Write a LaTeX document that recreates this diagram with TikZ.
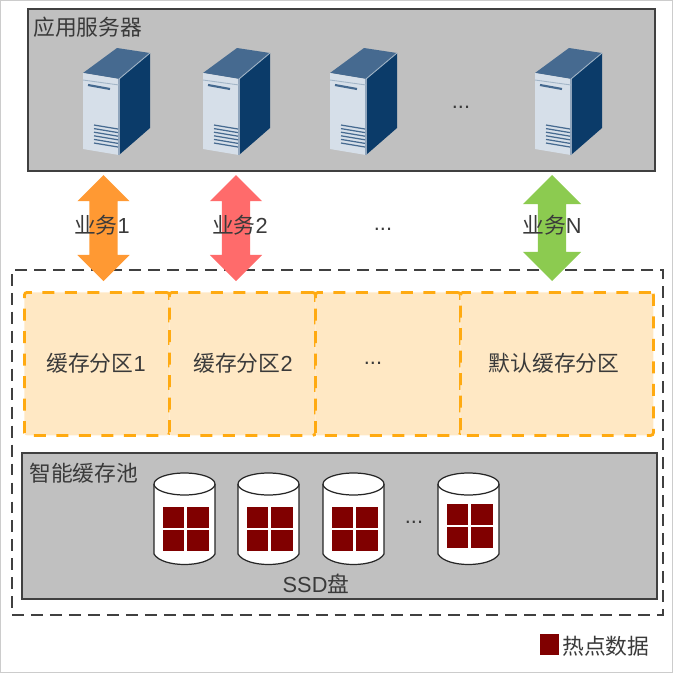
\documentclass[tikz,border=0pt]{standalone}
\usepackage{fontspec}
\setmainfont{Liberation Sans}
\newfontfamily\cjk{Noto Sans CJK SC}
\usetikzlibrary{shapes.arrows}

\definecolor{boxgray}{HTML}{C0C0C0}
\definecolor{cachefill}{HTML}{FFE8C4}
\definecolor{cacheline}{HTML}{FFAA11}
\definecolor{hotred}{HTML}{800000}
\definecolor{txtgray}{HTML}{3A3A3A}
\definecolor{srvtop}{HTML}{466A90}
\definecolor{srvside}{HTML}{0B3B69}
\definecolor{srvfront}{HTML}{D6DFE9}
\definecolor{svcorange}{HTML}{FF9933}
\definecolor{svcred}{HTML}{FF6B6B}
\definecolor{svcgreen}{HTML}{8CCB50}

\tikzset{
    label/.style={font=\fontsize{12.4}{14}\selectfont, text=txtgray, inner sep=0pt},
    panel/.style={draw=black!75, line width=1pt, fill=boxgray, inner sep=0pt, anchor=north west},
    cachebox/.style={draw=cacheline, fill=cachefill, line width=1.6pt, dash pattern=on 6.8pt off 6pt, rounded corners=1.5pt, inner sep=0pt, anchor=north west, minimum height=143*0.02cm},
    biarrow/.style={shape=double arrow, shape border rotate=90, draw=none, minimum height=106*0.02cm, minimum width=51*0.02cm, double arrow head extend=12*0.02cm, double arrow head indent=0pt, inner sep=7.8pt},
    server/.pic={
        \fill[srvtop] (0,25) -- (34,0) -- (67,5) -- (36,31) -- cycle;
        \fill[srvfront] (0,25) -- (36,31) -- (36,107) -- (0,101) -- cycle;
        \fill[srvside] (36,31) -- (67,5) -- (67,80) -- (36,107) -- cycle;
        \draw[srvtop!60!white, line width=0.6pt] (36,31) -- (36,107);
        \draw[srvtop!50!white, line width=0.5pt] (36,31) -- (67,5);
        \draw[srvtop!50!white, line width=0.5pt] (0,32) -- (36,37);
        \draw[srvtop, line width=1.2pt] (5,37) -- (27,41);
        \foreach \i in {0,...,5}
            \draw[srvtop, line width=0.7pt] (11,77+\i*3.6) -- (35,81+\i*3.6);
    },
    disk/.pic={
        \draw[black!85, fill=white, line width=0.7pt] (0,11) -- (0,81) .. controls (8,95) and (53,95) .. (61,81) -- (61,11);
        \draw[black!85, fill=white, line width=0.7pt] (30.5,11) ellipse (0.61cm and 0.22cm);
        \fill[hotred] (9,34+\dy) rectangle (30,55+\dy);
        \fill[hotred] (33,34+\dy) rectangle (54.5,55+\dy);
        \fill[hotred] (9,57+\dy) rectangle (30,78+\dy);
        \fill[hotred] (33,57+\dy) rectangle (54.5,78+\dy);
    }
}

\begin{document}
\begin{tikzpicture}[x=0.02cm, y=-0.02cm]
    \useasboundingbox (0,0) rectangle (673,673);
    \draw[black!20, line width=0.8pt] (0,0) rectangle (673,673);

    % Server panel
    \node[panel, minimum width=627*0.02cm, minimum height=162*0.02cm] (appbox) at (27,8) {};
    \node[label, anchor=west] (applabel) at (33,27) {\cjk 应用服务器};
    \foreach \x/\n in {83/1, 203/2, 330/3, 535/4}
        \pic (srv\n) at (\x,48) {server};
    \node[label] (srvdots) at (461,107) {...};

    % Outer dashed frame
    \node[draw=black!75, line width=1.1pt, dash pattern=on 6.8pt off 4pt, inner sep=0pt, anchor=north west, minimum width=651*0.02cm, minimum height=345*0.02cm] (outer) at (11,269) {};

    % Cache partitions
    \node[cachebox, minimum width=145*0.02cm] (cache1) at (23,291) {};
    \node[cachebox, minimum width=146*0.02cm] (cache2) at (168,291) {};
    \node[cachebox, minimum width=145*0.02cm] (cache3) at (314,291) {};
    \node[cachebox, minimum width=193*0.02cm] (cache4) at (459,291) {};
    \node[label] (cachetext1) at (96,363) {{\cjk 缓存分区}1};
    \node[label] (cachetext2) at (243,363) {{\cjk 缓存分区}2};
    \node[label] (cachetext3) at (373,363) {...};
    \node[label] (cachetext4) at (554,363) {\cjk 默认缓存分区};

    % Services
    \node[biarrow, fill=svcorange] (svc1) at (103.5,228) {};
    \node[biarrow, fill=svcred] (svc2) at (236,228) {};
    \node[biarrow, fill=svcgreen, minimum width=58*0.02cm, double arrow head extend=15*0.02cm] (svc3) at (552,228) {};
    \node[label] (svctext1) at (102,225) {{\cjk 业务}1};
    \node[label] (svctext2) at (240,225) {{\cjk 业务}2};
    \node[label] (svctext3) at (383,229) {...};
    \node[label] (svctext4) at (552,225) {{\cjk 业务}N};

    % Cache pool
    \node[panel, minimum width=635*0.02cm, minimum height=146*0.02cm] (pool) at (21,452) {};
    \node[label, anchor=west] (pooltext) at (29,473) {\cjk 智能缓存池};
    \foreach \x/\n/\dy in {154/1/0, 238/2/0, 323/3/0, 438/4/-3}
        \pic (ssd\n) at (\x,473) {disk};
    \node[label] (ssddots) at (414,522) {...};
    \node[label] (ssdtext) at (316,584) {SSD{\cjk 盘}};

    % Legend
    \node[fill=hotred, inner sep=0pt, minimum width=19*0.02cm, minimum height=21*0.02cm] (hotkey) at (549.5,644.5) {};
    \node[label, anchor=west] (hottext) at (562,646) {\cjk 热点数据};
\end{tikzpicture}
\end{document}
